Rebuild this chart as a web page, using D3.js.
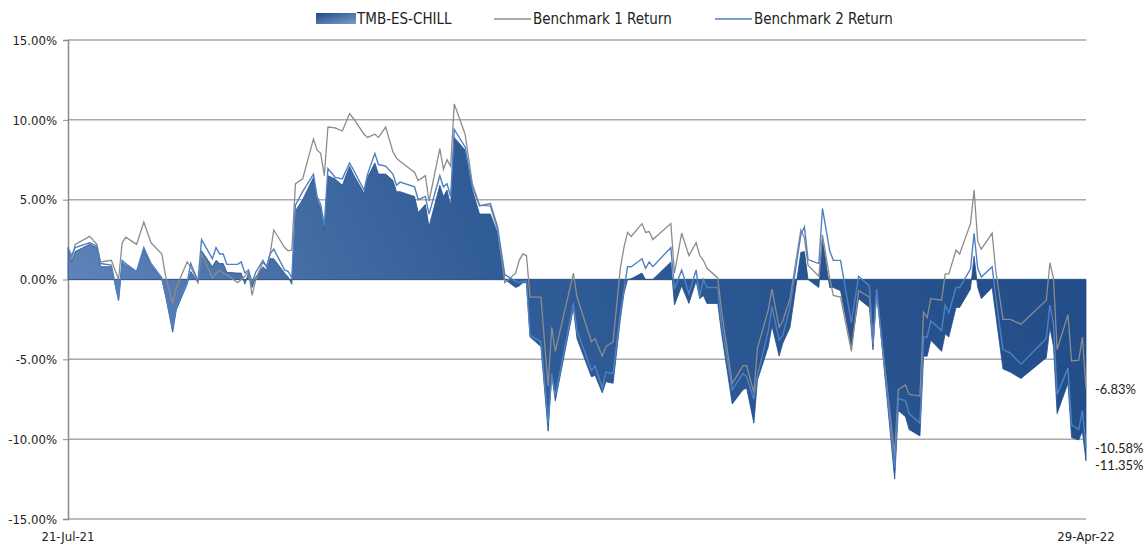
<!DOCTYPE html>
<html>
<head>
<meta charset="utf-8">
<script src="https://cdn.jsdelivr.net/npm/d3@7"></script>
<style>
  body { margin: 0; background: #fff; }
  .narrow { font-family: "Liberation Sans Narrow", "Arial Narrow", "DejaVu Sans Condensed", sans-serif; }
  .endlab { font-family: Lato, "Open Sans", sans-serif; font-size: 13px; fill: #222; }
</style>
</head>
<body>
<svg width="1148" height="545"></svg>
<script>
// trading day positions, counted in calendar days from 21-Jul-21
var startDate = new Date(2021, 6, 21);
var dayOffsets = [0,1,2,6,8,9,12,14,15,16,
  19,21,23,26,27,29,30,33,34,36,
  37,40,41,42,43,44,47,48,49,50,
  51,52,54,55,56,57,60,61,62,63,
  65,68,69,70,71,72,74,76,78,79,
  82,83,85,86,88,90,91,92,96,97,
  99,100,103,104,105,106,107,110,112,114,
  117,119,121,124,125,126,127,128,131,133,
  134,135,140,141,145,146,148,149,151,153,
  154,155,156,159,160,161,162,167,168,170,
  172,174,175,176,177,180,181,184,187,188,
  190,191,194,195,197,198,200,203,204,205,
  208,209,211,212,214,217,219,222,223,224,
  229,230,232,233,236,237,238,239,242,243,
  244,246,247,250,251,252,253,256,257,259,
  261,264,271,272,273,274,277,278,280,281,
  282];

// TMB-ES-CHILL (%)
var fund = [2.0,1.1,1.75,2.2,2.0,0.8,0.8,-1.3,1.1,0.9,
  0.5,1.9,0.9,0.0,-1.0,-3.3,-1.9,-0.3,0.5,-0.2,
  1.8,0.8,1.2,1.0,1.0,0.45,0.4,0.4,-0.3,0.4,
  -0.5,0.15,0.8,0.6,1.3,1.3,0.4,0.15,-0.3,4.3,
  5.0,6.4,5.0,4.5,3.1,6.5,6.3,5.9,7.1,6.6,
  5.4,6.4,7.3,6.6,6.6,6.2,5.5,5.5,5.2,4.2,
  4.7,3.3,5.9,5.2,5.6,4.6,8.9,8.1,5.6,4.1,
  4.1,2.9,0.0,-0.5,-0.4,-0.2,-0.2,-3.6,-4.2,-9.5,
  -6.0,-7.6,-1.8,-3.7,-6.1,-6.0,-7.1,-6.4,-6.5,-2.5,
  -0.9,0.0,0.05,0.4,0.0,0.0,0.0,1.1,-1.6,-0.4,
  -1.5,-0.1,-1.2,-1.0,-1.5,-1.5,-3.3,-7.8,-6.9,-6.8,
  -9.0,-6.3,-4.2,-2.9,-4.8,-4.0,-3.0,1.7,1.75,0.0,
  -0.5,2.5,-0.5,-0.5,-0.7,-4.2,-1.2,-1.75,-4.4,-0.6,
  -12.5,-8.2,-8.6,-9.4,-9.8,-4.8,-4.8,-3.8,-4.5,-3.4,
  -3.6,-1.75,-1.75,-0.6,1.45,-0.5,-1.2,-0.5,-2.2,-5.6,
  -5.8,-6.2,-4.9,-3.0,-4.2,-8.4,-6.5,-9.9,-10.05,-9.5,
  -11.35];

// Benchmark 1 Return (%)
var bench1 = [2.0,1.3,2.2,2.7,2.2,1.1,1.2,0.0,2.3,2.65,
  2.2,3.6,2.3,1.6,0.25,-1.5,-0.5,1.1,0.8,-0.2,
  1.6,0.1,0.4,0.6,0.4,0.3,-0.2,0.0,0.2,0.5,
  -1.0,0.0,1.1,0.8,1.6,3.1,2.0,1.8,1.85,6.0,
  6.3,8.8,8.1,7.9,6.5,9.55,9.5,9.3,10.4,10.1,
  9.1,8.9,9.1,8.9,9.55,8.0,7.6,7.4,6.7,6.2,
  6.5,4.9,8.2,6.9,7.5,7.1,11.0,9.1,6.0,4.65,
  4.6,3.1,-0.2,0.4,1.2,1.6,1.5,-1.1,-1.1,-6.7,
  -3.0,-4.5,0.4,-1.1,-3.9,-3.7,-4.8,-4.2,-3.9,0.7,
  2.0,2.95,2.7,3.5,2.95,3.0,2.5,3.5,0.4,2.9,
  1.5,2.3,1.5,1.2,0.7,0.1,-1.9,-6.5,-5.4,-5.4,
  -7.1,-4.3,-1.9,-0.6,-3.0,-2.6,-1.2,3.1,2.6,0.9,
  0.2,2.8,0.1,-1.0,-1.1,-4.5,-0.7,-1.1,-4.0,-0.9,
  -11.0,-6.9,-6.6,-7.2,-7.3,-2.05,-2.4,-1.2,-1.3,0.35,
  0.35,1.85,1.6,3.5,5.6,2.4,1.9,2.9,0.55,-2.5,
  -2.5,-2.8,-1.3,1.05,0.05,-4.4,-2.2,-5.1,-5.05,-3.6,
  -6.83];

// Benchmark 2 Return (%)
var bench2 = [2.0,1.5,2.0,2.3,2.1,1.0,0.9,-1.3,1.2,1.0,
  0.5,2.0,1.0,0.1,-0.9,-3.0,-1.7,-0.2,1.0,-0.1,
  2.5,1.3,2.0,1.6,1.6,0.95,0.95,1.1,0.4,0.6,
  -0.2,0.45,1.2,0.8,1.6,1.9,0.6,0.5,0.1,4.65,
  5.5,6.6,5.2,4.7,3.4,6.95,6.4,6.3,7.3,6.9,
  5.6,6.6,7.9,7.2,7.1,6.6,5.9,6.1,5.8,5.0,
  5.2,4.1,6.5,5.8,6.0,5.2,9.4,8.3,5.8,4.6,
  4.75,3.3,0.3,-0.1,-0.2,-0.1,-0.1,-3.5,-3.9,-9.0,
  -5.9,-7.3,-1.5,-3.2,-5.7,-5.4,-6.8,-5.8,-5.9,-2.1,
  -0.7,0.8,0.8,1.3,0.7,1.1,0.8,2.0,-0.6,0.6,
  -0.9,0.6,-1.1,0.0,-0.5,-0.5,-2.8,-6.9,-5.9,-6.1,
  -7.5,-6.0,-3.2,-1.7,-3.8,-3.5,-1.7,2.8,3.3,1.25,
  1.0,4.45,1.8,1.2,1.2,-2.7,0.2,-0.4,-3.9,-0.6,
  -11.8,-7.45,-7.6,-8.4,-9.0,-3.6,-3.6,-2.6,-3.2,-1.6,
  -2.1,-0.5,-0.5,0.65,2.9,0.7,0.15,0.8,-1.1,-4.4,
  -4.6,-5.3,-3.7,-1.6,-2.8,-7.2,-5.55,-9.1,-9.4,-8.2,
  -10.58];

var seriesNames = ["TMB-ES-CHILL", "Benchmark 1 Return", "Benchmark 2 Return"];
var yTicks = [-15, -10, -5, 0, 5, 10, 15];

var mLeft = 68, mRight = 1086, mTop = 40, mBottom = 519;
var svg = d3.select("svg");

var dates = dayOffsets.map(function(n){ return d3.timeDay.offset(startDate, n); });
var x = d3.scaleTime()
  .domain([dates[0], dates[dates.length - 1]])
  .range([mLeft, mRight]);
var y = d3.scaleLinear().domain([-15, 15]).range([mBottom, mTop]);

// gradient for the fund area
var defs = svg.append("defs");
var grad = defs.append("linearGradient")
  .attr("id", "fundGrad")
  .attr("gradientUnits", "userSpaceOnUse")
  .attr("x1", mLeft).attr("y1", mBottom)
  .attr("x2", mRight).attr("y2", mTop);
grad.append("stop").attr("offset", "0").attr("stop-color", "#6a8dc0");
grad.append("stop").attr("offset", "0.45").attr("stop-color", "#2f5b96");
grad.append("stop").attr("offset", "1").attr("stop-color", "#1f4a86");

var lgGrad = defs.append("linearGradient")
  .attr("id", "legGrad").attr("x1", 0).attr("y1", 0).attr("x2", 1).attr("y2", 1);
lgGrad.append("stop").attr("offset", "0").attr("stop-color", "#1f4a86");
lgGrad.append("stop").attr("offset", "1").attr("stop-color", "#7c9ccb");

// grid lines
svg.append("g").selectAll("line")
  .data(yTicks)
  .enter().append("line")
  .attr("x1", mLeft).attr("x2", mRight)
  .attr("y1", function(d){ return y(d); })
  .attr("y2", function(d){ return y(d); })
  .attr("stroke", function(d){ return d === 0 ? "#8a8a8a" : "#a9a9a9"; })
  .attr("stroke-width", 1.5);

// y axis
var yAxis = svg.append("g")
  .attr("transform", "translate(" + mLeft + ",0)")
  .call(d3.axisLeft(y).tickValues(yTicks).tickSize(5).tickPadding(6)
    .tickFormat(function(d){ return d.toFixed(2) + "%"; }));
yAxis.select(".domain").attr("stroke", "#8a8a8a").attr("stroke-width", 1.5);
yAxis.selectAll(".tick line").attr("stroke", "#8a8a8a");
yAxis.selectAll("text").attr("font-size", 13).attr("fill", "#222")
  .attr("font-family", "'Liberation Sans Narrow', 'Arial Narrow', 'DejaVu Sans Condensed', sans-serif");

// x labels (first and last date only)
var fmt = d3.timeFormat("%d-%b-%y");
svg.append("g").selectAll("text")
  .data([dates[0], dates[dates.length - 1]])
  .enter().append("text")
  .attr("class", "narrow")
  .attr("x", function(d){ return x(d); })
  .attr("y", 541)
  .attr("text-anchor", "middle")
  .attr("font-size", 13)
  .attr("fill", "#222")
  .text(function(d){ return fmt(d); });

// fund area
var area = d3.area()
  .x(function(d, i){ return x(dates[i]); })
  .y0(y(0))
  .y1(function(d){ return y(d); });
svg.append("path")
  .datum(fund)
  .attr("d", area)
  .attr("fill", "url(#fundGrad)")
  .attr("stroke", "#23508c")
  .attr("stroke-width", 0.8);

var line = d3.line()
  .x(function(d, i){ return x(dates[i]); })
  .y(function(d){ return y(d); });

svg.append("path")
  .datum(bench1)
  .attr("d", line)
  .attr("fill", "none")
  .attr("stroke", "#8c8c8c")
  .attr("stroke-width", 1.3);

svg.append("path")
  .datum(bench2)
  .attr("d", line)
  .attr("fill", "none")
  .attr("stroke", "#4f81c4")
  .attr("stroke-width", 1.4);

// end value labels
var last = dates.length - 1;
var ends = [bench1[last], bench2[last], fund[last]];
var prevY = -100;
ends.forEach(function(v){
  var ly = y(v) + 5;
  if (ly < prevY + 17) ly = prevY + 17;
  prevY = ly;
  svg.append("text")
    .attr("class", "endlab")
    .attr("x", x(dates[last]) + 9)
    .attr("y", ly)
    .text(v.toFixed(2) + "%");
});

// legend
var legend = svg.append("g").attr("class", "narrow").attr("font-size", 15).attr("fill", "#222");
legend.append("rect").attr("x", 316).attr("y", 13).attr("width", 40).attr("height", 11)
  .attr("fill", "url(#legGrad)");
legend.append("text").attr("x", 357).attr("y", 24).text(seriesNames[0]);
legend.append("line").attr("x1", 494).attr("x2", 531).attr("y1", 19).attr("y2", 19)
  .attr("stroke", "#8c8c8c").attr("stroke-width", 1.5);
legend.append("text").attr("x", 533).attr("y", 24).text(seriesNames[1]);
legend.append("line").attr("x1", 715).attr("x2", 752).attr("y1", 19).attr("y2", 19)
  .attr("stroke", "#4f81c4").attr("stroke-width", 1.5);
legend.append("text").attr("x", 754).attr("y", 24).text(seriesNames[2]);
</script>
</body>
</html>
